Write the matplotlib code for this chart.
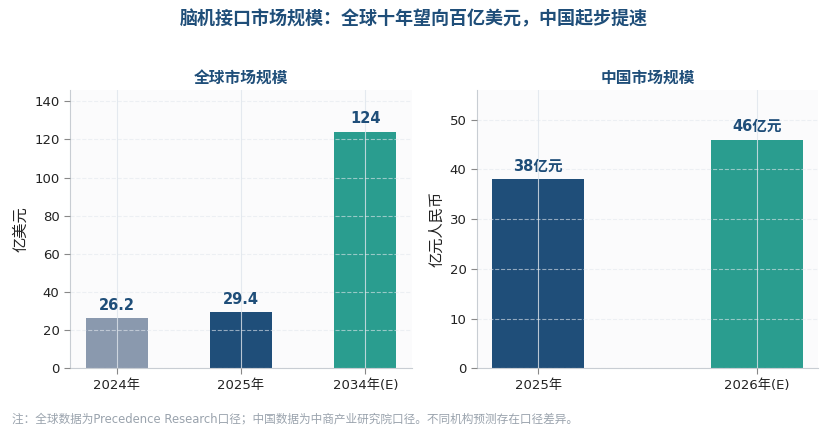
import matplotlib
matplotlib.use("Agg")
import matplotlib.pyplot as plt

plt.rcParams['font.family'] = ['DejaVu Sans', 'Noto Sans CJK SC']

# 全球
global_years = ["2024年", "2025年", "2034年(E)"]
global_vals = [26.2, 29.4, 124]
global_labels = ["26.2", "29.4", "124"]
global_colors = ["#8a99ae", "#1f4e79", "#2a9d8f"]

# 中国
china_years = ["2025年", "2026年(E)"]
china_vals = [38, 46]
china_labels = ["38亿元", "46亿元"]
china_colors = ["#1f4e79", "#2a9d8f"]

navy = "#1f4e79"

fig = plt.figure(figsize=(8.28, 4.36), dpi=100)
ax1 = fig.add_axes([0.0845, 0.155, 0.413, 0.639])
ax2 = fig.add_axes([0.576, 0.155, 0.412, 0.639])


def style_ax(ax, ymax, ylabel, title):
    ax.set_facecolor("#fbfbfc")
    for s in ["top", "right"]:
        ax.spines[s].set_visible(False)
    for s in ["left", "bottom"]:
        ax.spines[s].set_color("#c8cdd3")
    ax.set_ylim(0, ymax)
    ax.set_ylabel(ylabel, fontsize=11, color="#222222")
    ax.set_title(title, fontsize=11.3, fontweight="bold", color=navy, pad=5,
                 family=['Noto Sans CJK SC'])
    ax.tick_params(axis="both", labelsize=9.5, colors="#222222", length=4)
    ax.tick_params(axis="both", color="#888888")
    ax.yaxis.grid(True, linestyle="--", color="#e3e8ee", alpha=0.6, linewidth=0.8, zorder=3)
    ax.xaxis.grid(True, linestyle="-", color="#dfe5ec", alpha=0.8, linewidth=0.8, zorder=3)
    ax.set_axisbelow(False)


def bar_panel(ax, cats, vals, labels, colors, width):
    x = range(len(cats))
    bars = ax.bar(x, vals, width=width, color=colors, zorder=2)
    ax.set_xticks(list(x))
    ax.set_xticklabels(cats)
    for b, lab in zip(bars, labels):
        ax.annotate(lab, (b.get_x() + b.get_width() / 2, b.get_height()),
                    xytext=(0, 4), textcoords="offset points",
                    ha="center", va="bottom", fontsize=10.5,
                    fontweight="bold", color=navy)


bar_panel(ax1, global_years, global_vals, global_labels, global_colors, 0.5)
style_ax(ax1, 146, "亿美元", "全球市场规模")

bar_panel(ax2, china_years, china_vals, china_labels, china_colors, 0.42)
style_ax(ax2, 56, "亿元人民币", "中国市场规模")

fig.suptitle("脑机接口市场规模：全球十年望向百亿美元，中国起步提速", x=0.5, y=0.978,
             fontsize=13, fontweight="bold", color=navy,
             family=['Noto Sans CJK SC'])

fig.text(0.015, 0.04, "注：全球数据为Precedence Research口径；中国数据为中商产业研究院口径。不同机构预测存在口径差异。",
         fontsize=8.4, color="#9aa3ad", ha="left", va="center")

fig.savefig("out.png", dpi=100)
